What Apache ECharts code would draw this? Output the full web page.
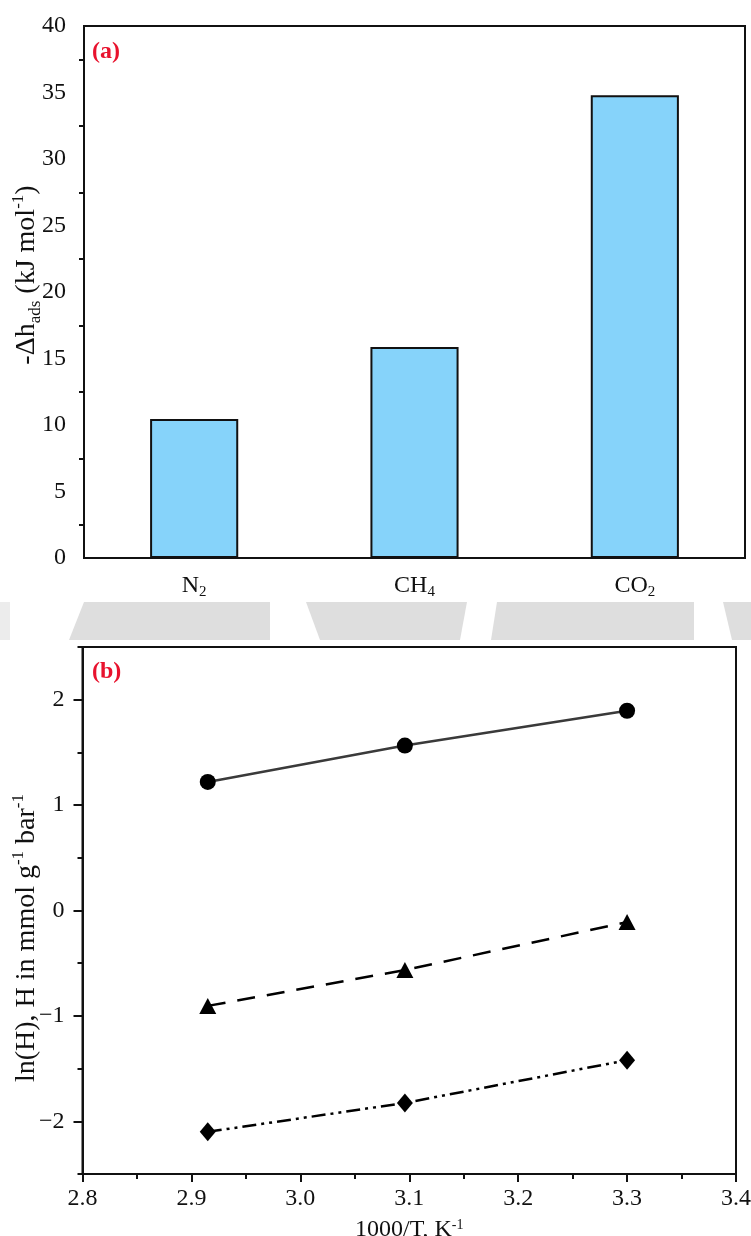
<!DOCTYPE html>
<html>
<head>
<meta charset="utf-8">
<script src="https://cdn.jsdelivr.net/npm/echarts@6/dist/echarts.min.js"></script>
<style>
  html, body { margin: 0; padding: 0; background: #ffffff; }
  #chart { width: 751px; height: 1236px; }
</style>
</head>
<body>
<div id="chart"></div>
<script>
// (a) heat of adsorption for each gas, kJ/mol
const gases = ['N2', 'CH4', 'CO2'];
const heatOfAdsorption = [10.45, 15.87, 34.8];
const heatAxisRange = [0, 40];
const heatAxisStep = 5;

// (b) van 't Hoff plot: ln(Henry constant) against 1000/T
const inverseTemp = [2.915, 3.096, 3.300];
const lnH_CO2 = [1.22, 1.565, 1.895];
const lnH_CH4 = [-0.905, -0.565, -0.11];
const lnH_N2 = [-2.10, -1.826, -1.42];
const invTAxisRange = [2.8, 3.4];
const invTAxisStep = 0.1;
const lnHAxisRange = [-2.5, 2.5];
const lnHMajorTicks = [-2, -1, 0, 1, 2];

const SERIF = 'Liberation Serif, Times New Roman, serif';
const INK = '#111111';
const TICK_FONT = 24;
const TITLE_FONT = 28;

const chart = echarts.init(document.getElementById('chart'), null, { renderer: 'canvas' });

// chemical formula -> rich text with subscript digits
function formulaRich(name) {
  return name.replace(/([A-Za-z]+)/g, '{n|$1}').replace(/(\d+)/g, '{s|$1}');
}
function toPair(ys) {
  return inverseTemp.map((x, i) => [x, ys[i]]);
}
const minus = (s) => String(s).replace('-', '\u2212');

const axisLineStyle = { color: INK, width: 2 };
const labelStyle = { color: INK, fontFamily: SERIF, fontSize: TICK_FONT };

const option = {
  backgroundColor: '#ffffff',
  animation: false,
  grid: [
    { left: 84, top: 26, width: 661, height: 532, show: true, outerBoundsMode: 'none',
      borderColor: INK, borderWidth: 2, backgroundColor: '#ffffff' },
    { left: 82.5, top: 647, width: 653.5, height: 527, show: true, outerBoundsMode: 'none',
      borderColor: INK, borderWidth: 2, backgroundColor: '#ffffff' }
  ],
  xAxis: [
    {
      type: 'category', gridIndex: 0, data: gases, position: 'bottom',
      axisLine: { lineStyle: axisLineStyle },
      axisTick: { alignWithLabel: true, length: 8, lineStyle: { color: INK, width: 2 } },
      axisLabel: {
        ...labelStyle, margin: 14,
        formatter: (v) => formulaRich(v),
        rich: {
          n: { fontFamily: SERIF, fontSize: TICK_FONT, color: INK, lineHeight: 28 },
          s: { fontFamily: SERIF, fontSize: 15, color: INK, verticalAlign: 'bottom' }
        }
      },
      splitLine: { show: false }
    },
    {
      // boundary ticks between categories
      type: 'category', gridIndex: 0, data: gases, position: 'bottom',
      axisLine: { show: false },
      axisTick: { length: 5, lineStyle: { color: INK, width: 2 } },
      axisLabel: { show: false },
      splitLine: { show: false }
    },
    {
      type: 'value', gridIndex: 1, position: 'bottom',
      min: invTAxisRange[0], max: invTAxisRange[1], interval: invTAxisStep,
      axisLine: { onZero: false, lineStyle: axisLineStyle },
      axisTick: { length: 8, lineStyle: { color: INK, width: 2 } },
      minorTick: { show: true, splitNumber: 2, length: 5, lineStyle: { color: INK, width: 2 } },
      axisLabel: { ...labelStyle, margin: 13, formatter: (v) => v.toFixed(1) },
      splitLine: { show: false },
      name: '1000/T, K{sup|-1}',
      nameLocation: 'middle',
      nameGap: 44,
      nameTextStyle: {
        color: INK, fontFamily: SERIF, fontSize: TICK_FONT,
        rich: {
          sup: { fontFamily: SERIF, fontSize: 14, color: INK, verticalAlign: 'top' }
        }
      }
    }
  ],
  yAxis: [
    {
      type: 'value', gridIndex: 0, position: 'left',
      min: heatAxisRange[0], max: heatAxisRange[1], interval: heatAxisStep,
      axisLine: { onZero: false, lineStyle: axisLineStyle },
      axisTick: { length: 9, lineStyle: { color: INK, width: 2 } },
      minorTick: { show: true, splitNumber: 2, length: 5, lineStyle: { color: INK, width: 2 } },
      axisLabel: { ...labelStyle, margin: 18 },
      splitLine: { show: false }
    },
    {
      type: 'value', gridIndex: 1, position: 'left',
      min: lnHAxisRange[0], max: lnHAxisRange[1], interval: 0.5,
      axisLine: { onZero: false, lineStyle: axisLineStyle },
      axisTick: { length: 5, lineStyle: { color: INK, width: 2 } },
      axisLabel: {
        ...labelStyle, margin: 18,
        formatter: (v) => (Math.abs(v - Math.round(v)) < 1e-6 ? minus(Math.round(v)) : '')
      },
      splitLine: { show: false }
    },
    {
      // longer ticks at the whole-number values
      type: 'value', gridIndex: 1, position: 'left', offset: 0,
      min: lnHAxisRange[0], max: lnHAxisRange[1], interval: 0.5,
      axisLine: { show: false, onZero: false },
      axisTick: { length: 9, customValues: lnHMajorTicks, lineStyle: { color: INK, width: 2 } },
      axisLabel: { show: false },
      splitLine: { show: false }
    }
  ],
  series: [
    {
      type: 'bar', xAxisIndex: 0, yAxisIndex: 0,
      data: heatOfAdsorption,
      barWidth: '40%',
      itemStyle: { color: '#86d3fa', borderColor: INK, borderWidth: 2 }
    },
    {
      name: 'CO2', type: 'line', xAxisIndex: 2, yAxisIndex: 1,
      data: toPair(lnH_CO2),
      symbol: 'circle', symbolSize: 16,
      itemStyle: { color: '#000000' },
      lineStyle: { color: '#3a3a3a', width: 2.5, type: 'solid' }
    },
    {
      name: 'CH4', type: 'line', xAxisIndex: 2, yAxisIndex: 1,
      data: toPair(lnH_CH4),
      symbol: 'triangle', symbolSize: [17, 16],
      itemStyle: { color: '#000000' },
      lineStyle: { color: '#000000', width: 2.5, type: [18, 12] }
    },
    {
      name: 'N2', type: 'line', xAxisIndex: 2, yAxisIndex: 1,
      data: toPair(lnH_N2),
      symbol: 'diamond', symbolSize: [16, 19],
      itemStyle: { color: '#000000' },
      lineStyle: { color: '#000000', width: 2.5, type: [14, 5, 3, 5, 3, 5] }
    }
  ],
  graphic: [
    // light grey band between the two panels
    { type: 'rect', z: -10, shape: { x: 0, y: 602, width: 10, height: 38 }, style: { fill: '#ececec' } },
    { type: 'polygon', z: -10, shape: { points: [[84, 602], [270, 602], [270, 640], [69, 640]] }, style: { fill: '#dedede' } },
    { type: 'polygon', z: -10, shape: { points: [[306, 602], [467, 602], [460, 640], [320, 640]] }, style: { fill: '#dedede' } },
    { type: 'polygon', z: -10, shape: { points: [[497, 602], [694, 602], [694, 640], [491, 640]] }, style: { fill: '#dedede' } },
    { type: 'polygon', z: -10, shape: { points: [[723, 602], [751, 602], [751, 640], [732, 640]] }, style: { fill: '#dedede' } },

    // panel tags
    { type: 'text', x: 92, y: 52, z: 20,
      style: { text: '(a)', fill: '#e8122d', font: 'bold 24px ' + SERIF, align: 'left', verticalAlign: 'middle' } },
    { type: 'text', x: 92, y: 672, z: 20,
      style: { text: '(b)', fill: '#e8122d', font: 'bold 24px ' + SERIF, align: 'left', verticalAlign: 'middle' } },

    // y-axis titles
    { type: 'text', x: 27, y: 275, rotation: Math.PI / 2, z: 20,
      style: {
        text: '{t|-Δh}{sub|ads}{t| (kJ mol}{sup|-1}{t|)}',
        align: 'center', verticalAlign: 'middle',
        rich: {
          t: { fontFamily: SERIF, fontSize: TITLE_FONT, fill: INK, lineHeight: 34 },
          sub: { fontFamily: SERIF, fontSize: 17, fill: INK, verticalAlign: 'bottom' },
          sup: { fontFamily: SERIF, fontSize: 17, fill: INK, verticalAlign: 'top' }
        }
      } },
    { type: 'text', x: 27, y: 938, rotation: Math.PI / 2, z: 20,
      style: {
        text: '{t|ln(H), H in mmol g}{sup|-1}{t| bar}{sup|-1}',
        align: 'center', verticalAlign: 'middle',
        rich: {
          t: { fontFamily: SERIF, fontSize: TITLE_FONT, fill: INK, lineHeight: 34 },
          sup: { fontFamily: SERIF, fontSize: 17, fill: INK, verticalAlign: 'top' }
        }
      } }
  ]
};

chart.setOption(option);
</script>
</body>
</html>
